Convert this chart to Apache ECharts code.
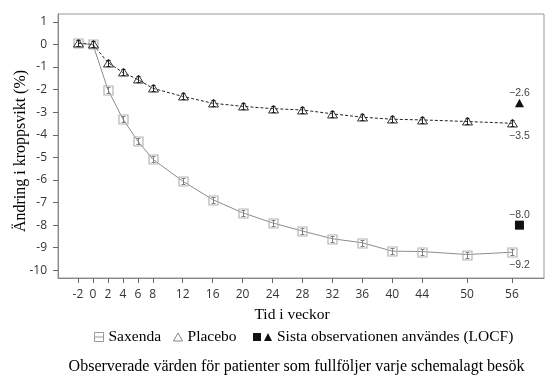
<!DOCTYPE html>
<html>
<head>
<meta charset="utf-8">
<script src="https://cdn.jsdelivr.net/npm/echarts@6/dist/echarts.min.js"></script>
<style>html,body{margin:0;padding:0;background:#fff;}#c{width:553px;height:379px;}</style>
</head>
<body>
<div id="c"></div>
<script>
const weeks = [-2, 0, 2, 4, 6, 8, 12, 16, 20, 24, 28, 32, 36, 40, 44, 50, 56];
const saxenda = [0.05, 0, -2.0, -3.3, -4.28, -5.08, -6.05, -6.87, -7.45, -7.9, -8.26, -8.6, -8.78, -9.15, -9.17, -9.3, -9.2];
const placebo = [0.07, 0, -0.8, -1.24, -1.55, -1.94, -2.3, -2.6, -2.74, -2.84, -2.9, -3.07, -3.22, -3.31, -3.34, -3.41, -3.49];
const locfWeek = 57;
const locfSaxenda = -8.0;
const locfPlacebo = -2.6;
const yTicks = [-10, -9, -8, -7, -6, -5, -4, -3, -2, -1, 0, 1];
const footnote = 'Observerade värden för patienter som fullföljer varje schemalagt besök';
const LOCF = 'Sista observationen användes (LOCF)';

const fmt = v => '\u2212' + Math.abs(v).toFixed(1);
const labelFont = {fontSize: 10.5, fontFamily: '"Liberation Sans", Arial, sans-serif', fill: '#444'};
const last = weeks.length - 1;

function pairs(ys) { return weeks.map((w, i) => [w, ys[i]]); }

function squareMarker(params, api) {
  const p = api.coord([api.value(0), api.value(1)]);
  const x = Math.round(p[0]) + 0.5, y = Math.round(p[1]) + 0.5;
  const ch = [
    {type: 'rect', shape: {x: x - 4.5, y: y - 4.5, width: 9, height: 9}, style: {fill: 'none', stroke: '#b4b4b4', lineWidth: 1.2}},
    {type: 'line', shape: {x1: x, y1: y - 3, x2: x, y2: y + 3}, style: {stroke: '#808080', lineWidth: 1}},
    {type: 'line', shape: {x1: x - 2, y1: y - 3, x2: x + 2, y2: y - 3}, style: {stroke: '#808080', lineWidth: 1}},
    {type: 'line', shape: {x1: x - 2, y1: y + 3, x2: x + 2, y2: y + 3}, style: {stroke: '#808080', lineWidth: 1}}
  ];
  if (params.dataIndex === last) {
    const lp = api.coord([locfWeek, api.value(1)]);
    ch.push({type: 'text', style: Object.assign({text: fmt(api.value(1)), x: lp[0], y: y + 12.5, align: 'center', verticalAlign: 'middle'}, labelFont)});
  }
  return {type: 'group', children: ch};
}

function triMarker(params, api) {
  const p = api.coord([api.value(0), api.value(1)]);
  const x = Math.round(p[0]) + 0.5, y = Math.round(p[1]) + 0.5;
  const ch = [
    {type: 'polygon', shape: {points: [[x, y - 4.5], [x + 5, y + 3.5], [x - 5, y + 3.5]]}, style: {fill: 'none', stroke: '#333', lineWidth: 1}},
    {type: 'line', shape: {x1: x, y1: y - 3, x2: x, y2: y + 3}, style: {stroke: '#222', lineWidth: 1}},
    {type: 'line', shape: {x1: x - 2, y1: y - 3, x2: x + 2, y2: y - 3}, style: {stroke: '#222', lineWidth: 1}},
    {type: 'line', shape: {x1: x - 2, y1: y + 3, x2: x + 2, y2: y + 3}, style: {stroke: '#222', lineWidth: 1}}
  ];
  if (params.dataIndex === last) {
    const lp = api.coord([locfWeek, api.value(1)]);
    ch.push({type: 'text', style: Object.assign({text: fmt(api.value(1)), x: lp[0], y: y + 13, align: 'center', verticalAlign: 'middle'}, labelFont)});
  }
  return {type: 'group', children: ch};
}

function locfMarker(params, api) {
  const p = api.coord([api.value(0), api.value(1)]);
  const x = p[0], y = p[1];
  const shape = api.value(2);
  const ch = [];
  if (shape === 0) {
    ch.push({type: 'rect', shape: {x: x - 4.5, y: y - 4.5, width: 9, height: 9}, style: {fill: '#111'}});
  } else {
    ch.push({type: 'polygon', shape: {points: [[x, y - 4.5], [x + 4.5, y + 4], [x - 4.5, y + 4]]}, style: {fill: '#111'}});
  }
  ch.push({type: 'text', style: Object.assign({text: fmt(api.value(1)), x: x, y: y - 10.5, align: 'center', verticalAlign: 'middle'}, labelFont)});
  return {type: 'group', children: ch};
}

const serif = '"Liberation Serif", "Times New Roman", serif';
const sans = '"Open Sans", "Noto Sans", sans-serif';

const chart = echarts.init(document.getElementById('c'), null, {renderer: 'canvas'});
chart.setOption({
  animation: false,
  grid: {left: 58, right: 9, top: 14, bottom: 101, show: true, borderColor: '#999', borderWidth: 1, containLabel: false, outerBoundsMode: 'none'},
  xAxis: {
    type: 'value', min: -4.67, max: 60.28,
    name: 'Tid i veckor', nameLocation: 'middle', nameGap: 29, nameMoveOverlap: false,
    nameTextStyle: {fontFamily: serif, fontSize: 15.5, color: '#000', padding: [0, 18, 0, 0]},
    axisLine: {show: true, onZero: false, lineStyle: {color: '#888'}},
    axisTick: {show: true, length: 5, customValues: weeks, lineStyle: {color: '#666'}},
    axisLabel: {customValues: weeks, margin: 11, fontFamily: sans, fontSize: 12, color: '#333'},
    splitLine: {show: false}
  },
  yAxis: {
    type: 'value', min: -10.34, max: 1.35,
    name: 'Ändring i kroppsvikt (%)', nameLocation: 'middle', nameGap: 29, nameMoveOverlap: false,
    nameTextStyle: {fontFamily: serif, fontSize: 16, color: '#000', padding: [0, 10, 0, 0]},
    axisLine: {show: true, onZero: false, lineStyle: {color: '#888'}},
    axisTick: {show: true, length: 5, customValues: yTicks, lineStyle: {color: '#666'}},
    axisLabel: {customValues: yTicks, margin: 11, fontFamily: sans, fontSize: 12, color: '#333', formatter: v => String(Math.round(v))},
    splitLine: {show: false}
  },
  legend: [
    {
      left: 89, top: 324, itemWidth: 9, itemHeight: 9, itemGap: 12, selectedMode: false,
      textStyle: {fontFamily: serif, fontSize: 15.5, color: '#000'},
      data: [
        {name: 'Saxenda', icon: 'path://M0,0H9V9H0Z M0,4.5H9', itemStyle: {color: '#fff', borderColor: '#999', borderWidth: 1}},
        {name: 'Placebo', icon: 'path://M4.5,0L9,8H0Z', itemStyle: {color: '#fff', borderColor: '#888', borderWidth: 1}}
      ]
    },
    {
      left: 248, top: 324, itemWidth: 19, itemHeight: 8, selectedMode: false,
      textStyle: {fontFamily: serif, fontSize: 15.5, color: '#000'},
      data: [{name: LOCF, icon: 'path://M0,0H8V8H0Z M11,8L15,0L19,8Z', itemStyle: {color: '#111', borderWidth: 0}}]
    }
  ],
  graphic: [{
    type: 'text', x: 296.5, y: 367,
    style: {text: footnote, align: 'center', verticalAlign: 'middle', fontFamily: serif, fontSize: 16, fill: '#000'}
  }],
  series: [
    {name: 'Saxenda', type: 'line', data: pairs(saxenda), symbol: 'none', lineStyle: {color: '#8c8c8c', width: 1}, z: 2},
    {name: 'Placebo', type: 'line', data: pairs(placebo), symbol: 'none', lineStyle: {color: '#222', width: 1, type: [3, 2]}, z: 2},
    {name: 'Saxenda', type: 'custom', data: pairs(saxenda), renderItem: squareMarker, z: 3},
    {name: 'Placebo', type: 'custom', data: pairs(placebo), renderItem: triMarker, z: 3},
    {name: LOCF, type: 'custom', data: [[locfWeek, locfSaxenda, 0], [locfWeek, locfPlacebo, 1]], renderItem: locfMarker, z: 3}
  ]
});
</script>
</body>
</html>
